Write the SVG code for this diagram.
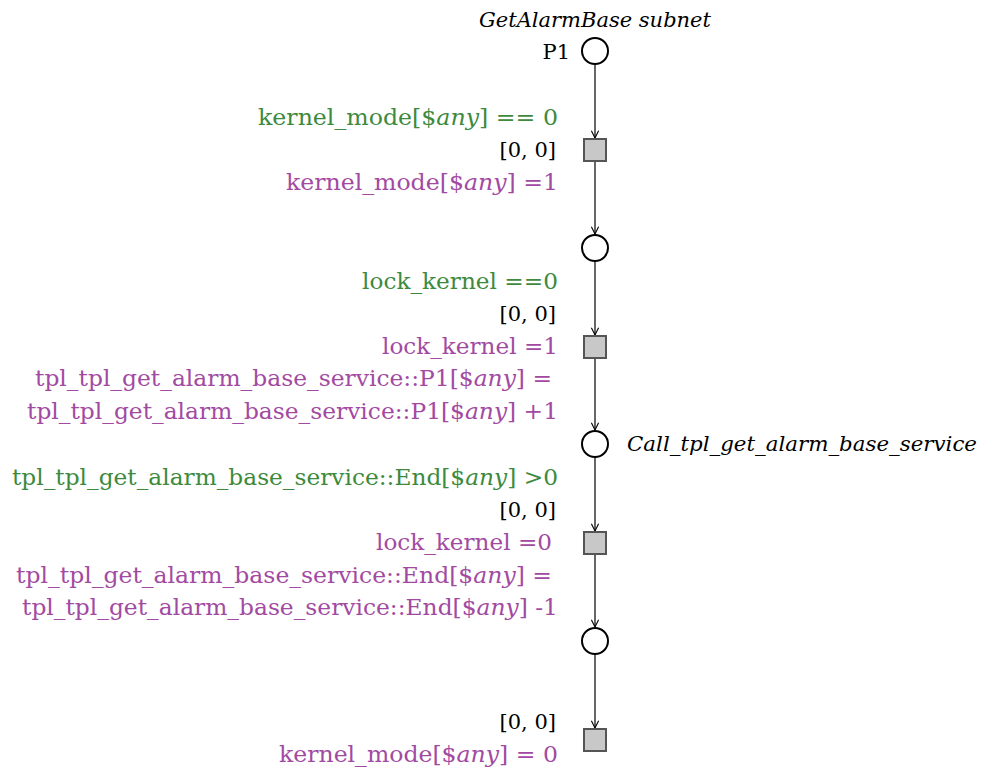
<svg xmlns="http://www.w3.org/2000/svg" width="981" height="769" viewBox="0 0 981 769">
<style>
text{font-family:"DejaVu Serif","Liberation Serif",serif;font-size:21px}
.r{text-anchor:end}
.l{font-size:22.8px}
.g{fill:#3d8a3d}
.p{fill:#a24aa2}
.k{fill:#000}
.i{font-style:italic}
.place{fill:#fff;stroke:#000;stroke-width:2}
.trans{fill:#c8c8c8;stroke:#555;stroke-width:2}
.arc{stroke:#000;stroke-width:1.2;fill:none;marker-end:url(#ah)}
</style>
<defs>
<marker id="ah" viewBox="0 0 10 10" refX="9" refY="5" markerWidth="9" markerHeight="9" orient="auto" markerUnits="userSpaceOnUse">
<path d="M1,1 L9,5 L1,9" fill="none" stroke="#000" stroke-width="1.2"/>
</marker>
</defs>
<text x="595" y="27" text-anchor="middle" class="i">GetAlarmBase subnet</text>
<g id="connectors">
<line class="arc" x1="595" y1="64" x2="595" y2="138"/>
<line class="arc" x1="595" y1="161" x2="595" y2="234"/>
<line class="arc" x1="595" y1="261" x2="595" y2="335"/>
<line class="arc" x1="595" y1="358" x2="595" y2="430"/>
<line class="arc" x1="595" y1="457" x2="595" y2="531"/>
<line class="arc" x1="595" y1="554" x2="595" y2="627"/>
<line class="arc" x1="595" y1="654" x2="595" y2="728"/>
</g>
<g id="P1">
<circle class="place" cx="595" cy="51" r="13"/>
<text x="570" y="59" class="r">P1</text>
</g>
<g id="T1">
<rect class="trans" x="584" y="139" width="22" height="22"/>
<text x="558" y="125" class="r l g" textLength="300" lengthAdjust="spacingAndGlyphs">kernel_mode[$<tspan class="i">any</tspan>] == 0</text>
<text x="556" y="157" class="r k">[0, 0]</text>
<text x="558" y="190" class="r l p" textLength="272" lengthAdjust="spacingAndGlyphs">kernel_mode[$<tspan class="i">any</tspan>] =1</text>
</g>
<g id="P2">
<circle class="place" cx="595" cy="248" r="13"/>
</g>
<g id="T2">
<rect class="trans" x="584" y="336" width="22" height="22"/>
<text x="558" y="289" class="r l g" textLength="196" lengthAdjust="spacingAndGlyphs">lock_kernel ==0</text>
<text x="556" y="321" class="r k">[0, 0]</text>
<text x="558" y="354" class="r l p" textLength="176" lengthAdjust="spacingAndGlyphs">lock_kernel =1</text>
<text x="552" y="386" class="r l p" textLength="517" lengthAdjust="spacingAndGlyphs">tpl_tpl_get_alarm_base_service::P1[$<tspan class="i">any</tspan>] =</text>
<text x="558" y="419" class="r l p" textLength="531" lengthAdjust="spacingAndGlyphs">tpl_tpl_get_alarm_base_service::P1[$<tspan class="i">any</tspan>] +1</text>
</g>
<g id="P3">
<circle class="place" cx="595" cy="444" r="13"/>
<text x="627" y="451" class="i" textLength="350" lengthAdjust="spacingAndGlyphs">Call_tpl_get_alarm_base_service</text>
</g>
<g id="T3">
<rect class="trans" x="584" y="532" width="22" height="22"/>
<text x="558" y="485" class="r l g" textLength="546" lengthAdjust="spacingAndGlyphs">tpl_tpl_get_alarm_base_service::End[$<tspan class="i">any</tspan>] &gt;0</text>
<text x="556" y="517" class="r k">[0, 0]</text>
<text x="552" y="550" class="r l p" textLength="176" lengthAdjust="spacingAndGlyphs">lock_kernel =0</text>
<text x="552" y="583" class="r l p" textLength="536" lengthAdjust="spacingAndGlyphs">tpl_tpl_get_alarm_base_service::End[$<tspan class="i">any</tspan>] =</text>
<text x="558" y="615" class="r l p" textLength="536" lengthAdjust="spacingAndGlyphs">tpl_tpl_get_alarm_base_service::End[$<tspan class="i">any</tspan>] -1</text>
</g>
<g id="P4">
<circle class="place" cx="595" cy="641" r="13"/>
</g>
<g id="T4">
<rect class="trans" x="584" y="729" width="22" height="22"/>
<text x="556" y="729" class="r k">[0, 0]</text>
<text x="558" y="762" class="r l p" textLength="279" lengthAdjust="spacingAndGlyphs">kernel_mode[$<tspan class="i">any</tspan>] = 0</text>
</g>
</svg>
